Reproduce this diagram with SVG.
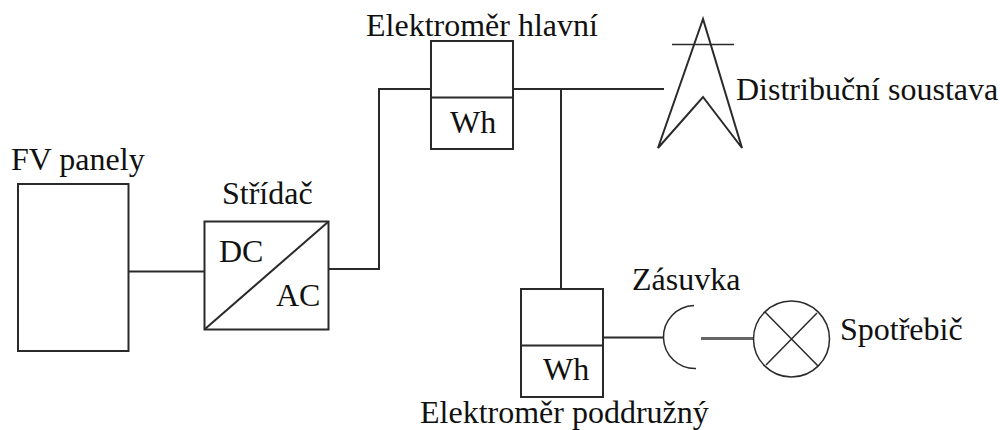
<svg xmlns="http://www.w3.org/2000/svg" width="1000" height="430" viewBox="0 0 1000 430">
<style>
.s{fill:none;stroke:#2a2a2a;stroke-width:2}
.t{stroke:#2a2a2a;stroke-width:1.5;fill:none}
text{font-family:"Liberation Serif",serif;font-size:32px;fill:#111}
</style>
<rect width="1000" height="430" fill="#fff"/>
<g id="connectors">
<path class="s" d="M129 271.500H204"/>
<path class="s" d="M329 269H379V89H431"/>
<path class="s" d="M513 89H664"/>
<path class="s" d="M561 89V289"/>
<path class="s" d="M604 337.500H663"/>
<path d="M701 338.500H753" fill="none" stroke="#666" stroke-width="3"/>
</g>
<g id="fv-panely">
<rect class="s" x="18" y="184" width="110.500" height="167"/>
<text x="11" y="170">FV panely</text>
</g>
<g id="stridac">
<rect class="s" x="204.500" y="221.500" width="124" height="108"/>
<path class="s" d="M205 329L328 222"/>
<text x="222" y="204">Střídač</text>
<text x="219" y="262">DC</text>
<text x="276" y="306">AC</text>
</g>
<g id="elektromer-hlavni">
<rect class="s" x="431" y="41" width="82" height="108"/>
<path class="s" d="M431 97.500H513"/>
<text x="366" y="36">Elektroměr hlavní</text>
<text x="450" y="133">Wh</text>
</g>
<g id="distribucni-soustava">
<path class="t" d="M672 44.500H734"/>
<path d="M703 19L658 148L703 97L742 148Z" fill="none" stroke="#2a2a2a" stroke-width="2" stroke-linejoin="miter"/>
<text x="736" y="100">Distribuční soustava</text>
</g>
<g id="elektromer-podruzny">
<rect class="s" x="521" y="289" width="82" height="108"/>
<path class="s" d="M521 345.500H603"/>
<text x="543" y="380">Wh</text>
<text x="420" y="423">Elektroměr poddružný</text>
</g>
<g id="zasuvka">
<path class="t" d="M694 305.500A31.500 31.500 0 0 0 696 368.500"/>
<text x="632" y="290">Zásuvka</text>
</g>
<g id="spotrebic">
<circle class="t" cx="791.500" cy="339" r="38"/>
<path class="t" d="M765 312L818 366M817 313L766 365"/>
<text x="840" y="340">Spotřebič</text>
</g>
</svg>
